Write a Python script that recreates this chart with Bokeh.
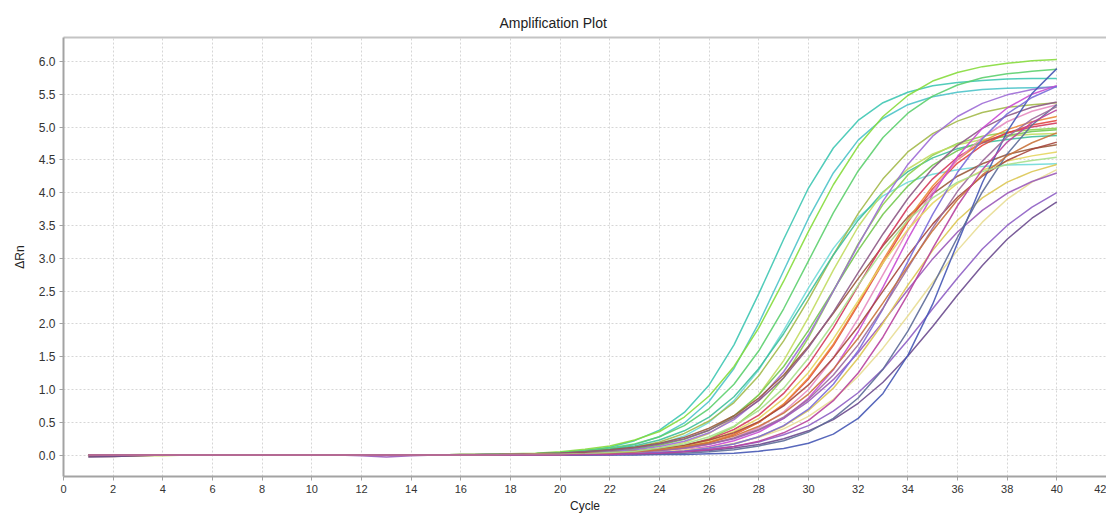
from bokeh.plotting import figure
from bokeh.models import LinearAxis, FixedTicker, PrintfTickFormatter, Range1d
from bokeh.embed import file_html
from bokeh.resources import INLINE

cycles = [1, 2, 3, 4, 5, 6, 7, 8, 9, 10,
          11, 12, 13, 14, 15, 16, 17, 18, 19, 20,
          21, 22, 23, 24, 25, 26, 27, 28, 29, 30,
          31, 32, 33, 34, 35, 36, 37, 38, 39, 40]

x_ticks = [0, 2, 4, 6, 8, 10, 12, 14, 16, 18, 20, 22, 24, 26, 28, 30, 32, 34, 36, 38, 40, 42]
y_ticks = [0.0, 0.5, 1.0, 1.5, 2.0, 2.5, 3.0, 3.5, 4.0, 4.5, 5.0, 5.5, 6.0]

well_01 = [0, 0, 0, 0, 0, 0, 0, 0, 0, 0,
           0, 0, 0, 0, 0, 0, 0.01, 0.01, 0.02, 0.04,
           0.07, 0.12, 0.22, 0.38, 0.65, 1.07, 1.68, 2.46, 3.29, 4.07,
           4.68, 5.10, 5.37, 5.53, 5.63, 5.68, 5.71, 5.73, 5.74, 5.74]
well_02 = [0, 0, 0, 0, 0, 0, 0, 0, 0, 0,
           0, 0, 0, 0, 0, 0, 0, 0.01, 0.02, 0.03,
           0.05, 0.09, 0.16, 0.28, 0.49, 0.82, 1.32, 2.01, 2.81, 3.61,
           4.30, 4.80, 5.13, 5.34, 5.46, 5.53, 5.57, 5.59, 5.60, 5.61]
well_03 = [0, 0, 0, 0, 0, 0, 0, 0, 0, 0,
           0, 0, 0, 0, 0, 0.01, 0.01, 0.02, 0.03, 0.05,
           0.09, 0.14, 0.23, 0.36, 0.58, 0.90, 1.35, 1.94, 2.65, 3.41,
           4.12, 4.71, 5.16, 5.48, 5.70, 5.83, 5.92, 5.97, 6.01, 6.03]
well_04 = [0, 0, 0, 0, 0, 0, 0, 0, 0, 0,
           0, 0, 0, 0, 0, 0.01, 0.01, 0.01, 0.02, 0.04,
           0.07, 0.11, 0.17, 0.28, 0.45, 0.71, 1.08, 1.59, 2.23, 2.96,
           3.69, 4.33, 4.84, 5.21, 5.47, 5.64, 5.75, 5.81, 5.85, 5.88]
well_05 = [0, 0, 0, 0, 0, 0, 0, 0, 0, 0,
           0, 0, 0, 0, 0, 0, 0, 0.01, 0.01, 0.02,
           0.03, 0.05, 0.10, 0.17, 0.29, 0.50, 0.83, 1.30, 1.90, 2.55,
           3.15, 3.62, 3.95, 4.16, 4.28, 4.35, 4.40, 4.42, 4.43, 4.44]
well_06 = [0, 0, 0, 0, 0, 0, 0, 0, 0, 0,
           0, 0, 0, 0, 0, 0, 0.01, 0.01, 0.02, 0.03,
           0.05, 0.08, 0.12, 0.20, 0.33, 0.52, 0.80, 1.21, 1.74, 2.37,
           3.05, 3.68, 4.21, 4.62, 4.90, 5.09, 5.22, 5.30, 5.34, 5.37]
well_07 = [0, 0, 0, 0, 0, 0, 0, 0, 0, 0,
           0, 0, 0, 0, 0, 0, 0.01, 0.01, 0.02, 0.03,
           0.05, 0.09, 0.14, 0.23, 0.37, 0.58, 0.89, 1.32, 1.85, 2.45,
           3.05, 3.58, 4.01, 4.32, 4.53, 4.67, 4.76, 4.81, 4.85, 4.87]
well_08 = [0, 0, 0, 0, 0, 0, 0, 0, 0, 0,
           0, 0, 0, 0, 0, 0, 0, 0, 0, 0.01,
           0.01, 0.03, 0.04, 0.08, 0.14, 0.25, 0.43, 0.73, 1.18, 1.79,
           2.50, 3.22, 3.82, 4.27, 4.57, 4.75, 4.86, 4.92, 4.96, 4.98]
well_09 = [0, -0.01, -0.01, -0.01, 0, 0, 0, 0, 0, 0,
           0, 0, 0, 0, 0, 0, 0, 0, 0.01, 0.01,
           0.02, 0.03, 0.06, 0.11, 0.19, 0.33, 0.56, 0.92, 1.44, 2.10,
           2.82, 3.48, 4.00, 4.36, 4.59, 4.73, 4.81, 4.86, 4.89, 4.90]
well_10 = [0, 0, 0, 0, 0, 0, 0, 0, 0, 0,
           0, 0, 0, 0, 0, 0, 0, 0.01, 0.01, 0.02,
           0.03, 0.06, 0.09, 0.15, 0.24, 0.38, 0.60, 0.92, 1.35, 1.90,
           2.51, 3.12, 3.67, 4.10, 4.42, 4.64, 4.78, 4.87, 4.93, 4.96]
well_11 = [0, 0, 0, 0, 0, 0, 0, 0, 0, 0,
           0, 0, 0, 0, 0, 0, 0, 0.01, 0.01, 0.02,
           0.03, 0.05, 0.08, 0.13, 0.21, 0.34, 0.54, 0.84, 1.27, 1.83,
           2.50, 3.20, 3.87, 4.43, 4.86, 5.16, 5.36, 5.49, 5.57, 5.62]
well_12 = [-0.02, -0.02, -0.01, 0, 0, 0, 0, 0, 0, 0,
           0, 0, 0, 0, 0, 0.01, 0.01, 0.01, 0.02, 0.03,
           0.05, 0.08, 0.12, 0.18, 0.27, 0.41, 0.60, 0.87, 1.22, 1.66,
           2.16, 2.69, 3.19, 3.63, 3.98, 4.25, 4.44, 4.58, 4.67, 4.73]
well_13 = [0, 0, 0, 0, 0, 0, 0, 0, 0, 0,
           0, 0, 0, 0, 0, 0, 0.01, 0.01, 0.02, 0.03,
           0.05, 0.07, 0.11, 0.17, 0.25, 0.38, 0.57, 0.83, 1.18, 1.64,
           2.18, 2.78, 3.37, 3.91, 4.37, 4.72, 4.98, 5.17, 5.30, 5.38]
well_14 = [0, 0, 0, 0, 0, 0, 0, 0, 0, 0,
           0, 0, 0, 0, 0, 0, 0, 0, 0.01, 0.01,
           0.02, 0.03, 0.06, 0.09, 0.15, 0.24, 0.39, 0.61, 0.94, 1.38,
           1.94, 2.58, 3.21, 3.77, 4.21, 4.54, 4.76, 4.91, 5.00, 5.06]
well_15 = [0, 0, 0, 0, 0, 0, 0, 0, 0, 0,
           0, 0, 0, 0, 0, 0, 0, 0, 0.01, 0.01,
           0.02, 0.03, 0.04, 0.07, 0.12, 0.19, 0.31, 0.50, 0.77, 1.16,
           1.67, 2.29, 2.93, 3.55, 4.06, 4.45, 4.72, 4.91, 5.03, 5.10]
well_16 = [0, 0, 0, 0, 0, 0, 0, 0, 0, 0,
           0, 0, 0, 0, 0, 0, 0, 0, 0.01, 0.01,
           0.02, 0.03, 0.05, 0.07, 0.12, 0.20, 0.32, 0.50, 0.78, 1.18,
           1.69, 2.31, 2.97, 3.59, 4.10, 4.50, 4.78, 4.96, 5.08, 5.16]
well_17 = [0, 0, 0, 0, 0, 0, 0, 0, 0, 0,
           0, 0, 0, 0, 0, 0, 0, 0, 0, 0.01,
           0.01, 0.02, 0.04, 0.06, 0.10, 0.16, 0.26, 0.42, 0.66, 1.00,
           1.48, 2.08, 2.75, 3.42, 4.02, 4.50, 4.84, 5.08, 5.24, 5.34]
well_18 = [0, 0, 0, 0, 0, 0, 0, 0, 0, 0,
           0, 0, 0, 0, 0, 0, 0, 0, 0, 0.01,
           0.01, 0.02, 0.03, 0.05, 0.08, 0.13, 0.22, 0.35, 0.56, 0.87,
           1.30, 1.88, 2.56, 3.29, 3.97, 4.55, 4.98, 5.29, 5.50, 5.63]
well_19 = [0, 0, 0, 0, 0, 0, 0, 0, 0, 0,
           0, 0, 0, 0, 0, 0, 0, 0, 0.01, 0.01,
           0.02, 0.03, 0.05, 0.08, 0.14, 0.22, 0.36, 0.56, 0.86, 1.26,
           1.77, 2.35, 2.93, 3.44, 3.84, 4.14, 4.34, 4.48, 4.56, 4.62]
well_20 = [0, 0, 0, 0, 0, 0, 0, 0, 0, 0,
           0, 0, 0, 0, 0, 0, 0, 0.01, 0.01, 0.02,
           0.03, 0.04, 0.06, 0.10, 0.15, 0.23, 0.34, 0.51, 0.75, 1.07,
           1.48, 1.96, 2.50, 3.04, 3.52, 3.93, 4.25, 4.49, 4.66, 4.77]
well_21 = [0, 0, 0, 0, 0, 0, 0, 0, 0, 0,
           0, 0, 0, 0, 0, 0, 0, 0, 0.01, 0.01,
           0.01, 0.02, 0.03, 0.05, 0.08, 0.11, 0.18, 0.27, 0.40, 0.59,
           0.85, 1.20, 1.63, 2.12, 2.63, 3.12, 3.55, 3.90, 4.16, 4.35]
well_22 = [0, 0, 0, 0, 0, 0, 0, 0, 0, 0,
           0, -0.01, -0.03, -0.01, 0, 0, 0, 0.01, 0.01, 0.01,
           0.02, 0.03, 0.05, 0.07, 0.11, 0.17, 0.25, 0.38, 0.56, 0.82,
           1.15, 1.56, 2.03, 2.52, 2.99, 3.40, 3.73, 3.99, 4.17, 4.30]
well_23 = [0, 0, 0, 0, 0, 0, 0, 0, 0, 0,
           0, 0, 0, 0, 0, 0, 0, 0, 0, 0.01,
           0.01, 0.01, 0.02, 0.04, 0.06, 0.11, 0.17, 0.28, 0.44, 0.68,
           1.02, 1.48, 2.01, 2.59, 3.12, 3.58, 3.92, 4.16, 4.32, 4.43]
well_24 = [0, 0, 0, 0, 0, 0, 0, 0, 0, 0,
           0, 0, 0, 0, 0, 0, 0, 0, 0, 0.01,
           0.01, 0.02, 0.02, 0.04, 0.06, 0.09, 0.13, 0.20, 0.31, 0.45,
           0.67, 0.95, 1.31, 1.75, 2.23, 2.70, 3.14, 3.50, 3.78, 4.00]
well_25 = [-0.03, -0.02, -0.01, 0, 0, 0, 0, 0, 0, 0,
           0, 0, 0, 0, 0, 0, 0, 0, 0, 0.01,
           0.01, 0.01, 0.02, 0.03, 0.05, 0.07, 0.11, 0.16, 0.25, 0.37,
           0.54, 0.79, 1.11, 1.51, 1.96, 2.44, 2.89, 3.29, 3.61, 3.86]
well_26 = [0, 0, 0, 0, 0, 0, 0, 0, 0, 0,
           0, 0, 0, 0, 0, 0, 0, 0, 0, 0,
           0, 0, 0, 0.01, 0.01, 0.02, 0.03, 0.06, 0.10, 0.18,
           0.32, 0.56, 0.94, 1.52, 2.30, 3.23, 4.15, 4.93, 5.51, 5.89]
well_27 = [0, 0, 0, 0, 0, 0, 0, 0, 0, 0,
           0, 0, 0, 0, 0, 0, 0, 0, 0, 0,
           0, 0.01, 0.01, 0.02, 0.03, 0.05, 0.08, 0.14, 0.22, 0.35,
           0.56, 0.87, 1.31, 1.89, 2.58, 3.32, 4.01, 4.59, 5.03, 5.34]
well_28 = [0, 0, 0, 0, 0, 0, 0, 0, 0, 0,
           0, 0, 0, 0, 0, 0, 0, 0, 0, 0.01,
           0.01, 0.01, 0.02, 0.04, 0.06, 0.11, 0.17, 0.28, 0.45, 0.70,
           1.08, 1.59, 2.23, 2.95, 3.67, 4.31, 4.82, 5.20, 5.45, 5.62]
well_29 = [0, 0, 0, 0, 0, 0, 0, 0, 0, 0,
           0, 0, 0, 0, 0, 0, 0, 0, 0.01, 0.01,
           0.02, 0.03, 0.05, 0.07, 0.11, 0.17, 0.26, 0.39, 0.58, 0.85,
           1.22, 1.68, 2.24, 2.85, 3.46, 4.02, 4.48, 4.85, 5.12, 5.31]
well_30 = [0, 0, 0, 0, 0, 0, 0, 0, 0, 0,
           0, 0, 0, 0, 0, 0, 0, 0.01, 0.01, 0.01,
           0.02, 0.03, 0.05, 0.08, 0.13, 0.19, 0.29, 0.44, 0.64, 0.93,
           1.31, 1.78, 2.32, 2.88, 3.42, 3.89, 4.27, 4.56, 4.76, 4.91]
well_31 = [0, 0, 0, 0, 0, 0, 0, 0, 0, 0,
           0, 0, 0, 0, 0, 0, 0, 0.01, 0.01, 0.01,
           0.02, 0.04, 0.06, 0.11, 0.17, 0.28, 0.44, 0.68, 1.02, 1.48,
           2.01, 2.59, 3.12, 3.58, 3.92, 4.16, 4.32, 4.43, 4.49, 4.54]
well_32 = [0, 0, 0, 0, 0, 0, 0, 0, 0, 0,
           0, 0, 0, 0, 0, 0, 0, 0, 0, 0,
           0.01, 0.01, 0.02, 0.03, 0.05, 0.08, 0.13, 0.21, 0.34, 0.53,
           0.83, 1.25, 1.80, 2.45, 3.15, 3.80, 4.35, 4.77, 5.07, 5.26]

wells = [well_01, well_02, well_03, well_04, well_05, well_06, well_07, well_08,
         well_09, well_10, well_11, well_12, well_13, well_14, well_15, well_16,
         well_17, well_18, well_19, well_20, well_21, well_22, well_23, well_24,
         well_25, well_26, well_27, well_28, well_29, well_30, well_31, well_32]

well_colors = ["#3ec7b2", "#4cc3c9", "#86dc3c", "#5ccf6e", "#6fdad8", "#a3b94a", "#3fbf9a", "#8fd14f",
               "#c2dc62", "#74c850", "#9d6cd6", "#9a5a3c", "#8d5a86", "#d3395c", "#e2453f", "#ea8a3a",
               "#e58bc0", "#c94bd2", "#e6d55e", "#a5463c", "#e8dd94", "#9b5ab9", "#dcc653", "#8e5fc4",
               "#6b4b8e", "#4658b5", "#5d6c98", "#7a6ad9", "#9c6b9c", "#c8733c", "#a9e08c", "#b8439f"]

for w in wells:
    assert len(w) == 40, len(w)

FONT = "Liberation Sans"
AXIS_GREY = "#a3a3a3"

p = figure(width=1106, height=515, output_backend="svg", toolbar_location=None,
           x_range=Range1d(0, 42.0), y_range=Range1d(-0.326, 6.364),
           min_border_left=63, min_border_right=0, min_border_top=37, min_border_bottom=37,
           background_fill_color="white", border_fill_color="white")
p.outline_line_color = None

xa = p.below[0]
ya = p.left[0]

p.title.text = "Amplification Plot"
p.title.align = "left"
p.title.offset = 436
p.title.standoff = 14
p.title.text_font = FONT
p.title.text_font_size = "14px"
p.title.text_font_style = "normal"
p.title.text_color = "#222222"

for w, c in zip(wells, well_colors):
    p.line(cycles, w, line_color=c, line_width=1.5, line_alpha=0.9)

top_axis = LinearAxis(ticker=FixedTicker(ticks=[]), axis_line_color="#c4c4c4", axis_line_width=2,
                      major_tick_line_color=None, minor_tick_line_color=None,
                      major_label_text_font_size="0px", major_tick_out=0, major_label_standoff=0)
p.add_layout(top_axis, "above")

xa.ticker = FixedTicker(ticks=x_ticks)
xa.axis_label = "Cycle"
ya.ticker = FixedTicker(ticks=y_ticks)
ya.formatter = PrintfTickFormatter(format="%.1f")
ya.axis_label = "\u0394Rn"

for ax in (xa, ya):
    ax.axis_line_color = AXIS_GREY
    ax.axis_line_width = 2
    ax.major_tick_line_color = AXIS_GREY
    ax.major_tick_out = 4
    ax.major_tick_in = 0
    ax.minor_tick_line_color = None
    ax.major_label_text_font = FONT
    ax.major_label_text_font_size = "11px"
    ax.major_label_text_color = "#333333"
    ax.axis_label_text_font = FONT
    ax.axis_label_text_font_size = "12px"
    ax.axis_label_text_font_style = "normal"
    ax.axis_label_text_color = "#222222"
ya.major_label_text_font_size = "12px"
xa.major_label_standoff = 4
xa.axis_label_standoff = 3
ya.major_label_standoff = 4
ya.axis_label_standoff = 9

for g in (p.xgrid[0], p.ygrid[0]):
    g.grid_line_color = "#d6d6d6"
    g.grid_line_dash = "2 2"
    g.grid_line_width = 1

open("out.html", "w").write(file_html(p, INLINE))
